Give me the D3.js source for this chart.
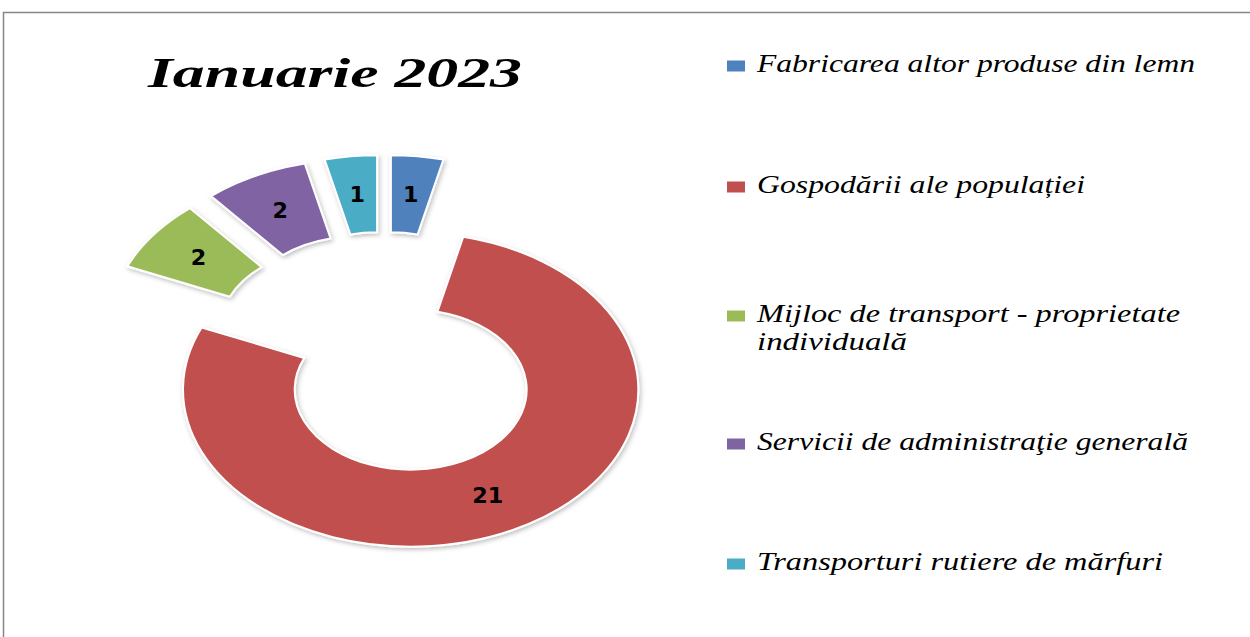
<!DOCTYPE html>
<html>
<head>
<meta charset="utf-8">
<script src="https://cdn.jsdelivr.net/npm/d3@7"></script>
<style>
  body { margin: 0; background: #fff; }
  svg { display: block; }
</style>
</head>
<body>
<div id="chart"></div>
<script>
// data
var title = "Ianuarie 2023";
var categories = [
    "Fabricarea altor produse din lemn",
    "Gospodării ale populației",
    "Mijloc de transport - proprietate individuală",
    "Servicii de administraţie generală",
    "Transporturi rutiere de mărfuri"
];
// legend lines (the long one wraps)
var legendLines = [
    ["Fabricarea altor produse din lemn"],
    ["Gospodării ale populației"],
    ["Mijloc de transport - proprietate", "individuală"],
    ["Servicii de administraţie generală"],
    ["Transporturi rutiere de mărfuri"]
];
var values = [1, 21, 2, 2, 1];
var colors = ["#4F81BD", "#C0504D", "#9BBB59", "#8064A2", "#4BACC6"];

var width = 1250;
var height = 637;

// pie geometry (the original picture is stretched horizontally)
var cx = 384;
var cy = 353;
var stretchX = 1.45;
var outerR = 157;
var innerR = 80;
var explode = 41;

var svg = d3.select("#chart").append("svg")
    .attr("width", width)
    .attr("height", height);

var defs = svg.append("defs");
var shadow = defs.append("filter")
    .attr("id", "shadow")
    .attr("x", "-20%").attr("y", "-20%")
    .attr("width", "140%").attr("height", "140%");
shadow.append("feDropShadow")
    .attr("dx", 1).attr("dy", 2)
    .attr("stdDeviation", 2)
    .attr("flood-color", "#000")
    .attr("flood-opacity", 0.25);

// outer frame
svg.append("rect")
    .attr("x", 3.5)
    .attr("y", 12.5)
    .attr("width", 1300)
    .attr("height", 700)
    .style("fill", "none")
    .style("stroke", "#868686")
    .style("stroke-width", 1.5);

// title
svg.append("text")
    .attr("x", 148)
    .attr("y", 87)
    .attr("textLength", 374)
    .attr("lengthAdjust", "spacingAndGlyphs")
    .style("font-family", "'Liberation Serif', 'DejaVu Serif', serif")
    .style("font-style", "italic")
    .style("font-weight", "bold")
    .style("font-size", "43px")
    .style("fill", "#000")
    .text(title);

var pie = d3.pie()
    .sort(null)
    .value(function(d) { return d; });

var arc = d3.arc()
    .innerRadius(innerR)
    .outerRadius(outerR);

var slices = pie(values);

function sliceOffset(d) {
    var mid = (d.startAngle + d.endAngle) / 2;
    return [Math.sin(mid) * explode * stretchX, -Math.cos(mid) * explode];
}

var slice = svg.selectAll(".slice")
    .data(slices)
  .enter().append("g")
    .attr("class", "slice")
    .attr("transform", function(d) {
        var off = sliceOffset(d);
        return "translate(" + (cx + off[0]) + "," + (cy + off[1]) + ")";
    });

slice.append("path")
    .attr("transform", "scale(" + stretchX + ",1)")
    .attr("d", arc)
    .attr("filter", "url(#shadow)")
    .style("fill", function(d, i) { return colors[i]; })
    .style("stroke", "#fff")
    .style("stroke-width", 2)
    .style("vector-effect", "non-scaling-stroke");

// value labels, a bit wider than normal like the stretched original
slice.append("text")
    .attr("x", function(d) { return arc.centroid(d)[0] * stretchX; })
    .attr("y", function(d) { return arc.centroid(d)[1]; })
    .attr("dy", "0.36em")
    .attr("text-anchor", "middle")
    .attr("textLength", function(d) { return String(d.data).length * 15.5; })
    .attr("lengthAdjust", "spacingAndGlyphs")
    .style("font-family", "'DejaVu Sans', Verdana, sans-serif")
    .style("font-weight", "bold")
    .style("font-size", "21px")
    .style("fill", "#000")
    .text(function(d) { return d.data; });

// legend
var legendX = 727;
var legendBaselines = [72, 193, 322, 450, 570];
var lineGap = 28;
var legendWidths = [
    [438],
    [328],
    [423, 150],
    [431],
    [406]
];

var legend = svg.selectAll(".legend")
    .data(categories)
  .enter().append("g")
    .attr("class", "legend")
    .attr("transform", function(d, i) {
        return "translate(" + legendX + "," + legendBaselines[i] + ")";
    });

legend.append("rect")
    .attr("x", 0)
    .attr("y", -11.5)
    .attr("width", 18)
    .attr("height", 11)
    .style("fill", function(d, i) { return colors[i]; });

legend.each(function(d, i) {
    var g = d3.select(this);
    legendLines[i].forEach(function(line, j) {
        g.append("text")
            .attr("x", 30)
            .attr("y", j * lineGap)
            .attr("textLength", legendWidths[i][j])
            .attr("lengthAdjust", "spacingAndGlyphs")
            .style("font-family", "'Liberation Serif', 'DejaVu Serif', serif")
            .style("font-style", "italic")
            .style("font-size", "25px")
            .style("fill", "#000")
            .text(line);
    });
});
</script>
</body>
</html>
